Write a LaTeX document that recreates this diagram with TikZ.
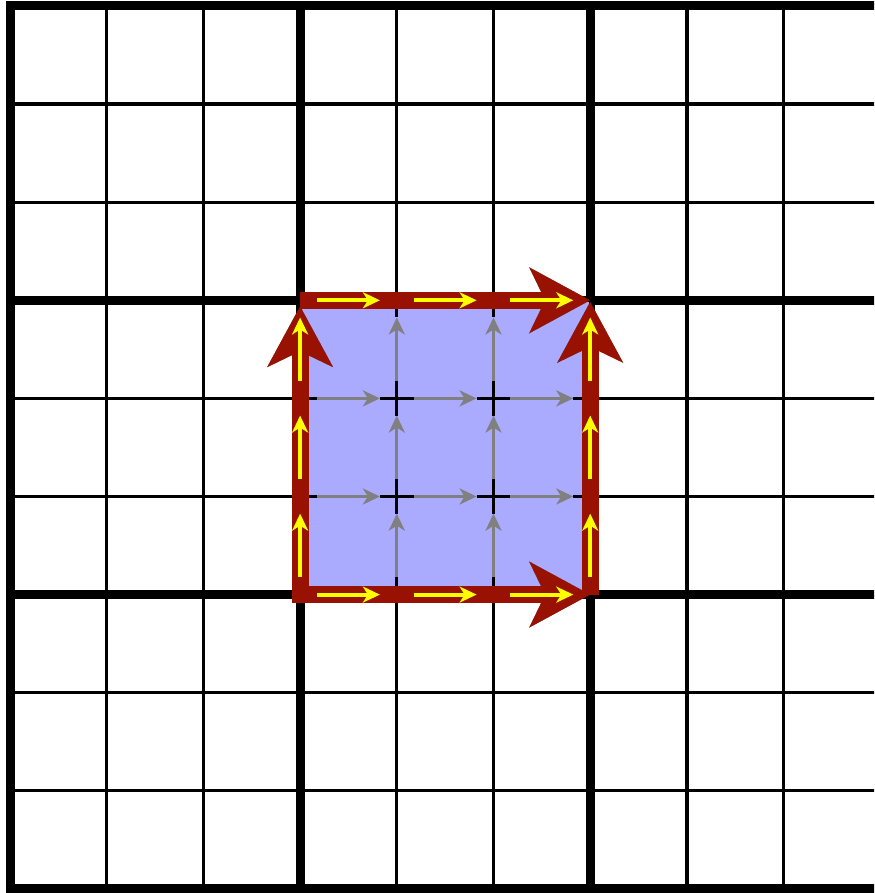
\documentclass[tikz,border=0pt]{standalone}
\usetikzlibrary{arrows.meta}
\definecolor{sqblue}{RGB}{170,170,255}
\definecolor{bred}{RGB}{153,17,0}
\definecolor{ylw}{RGB}{255,255,0}
\definecolor{gry}{RGB}{128,128,128}
\tikzset{
  thingrid/.style={draw=black, line width=0.033cm},
  thickgrid/.style={draw=black, line width=0.09cm, line cap=rect},
  garrow/.style={draw=gry, line width=0.033cm, -{Stealth[length=0.17cm,width=0.16cm,inset=0.05cm]}},
  yarrow/.style={draw=ylw, line width=0.04cm, -{Stealth[length=0.17cm,width=0.16cm,inset=0.05cm]}},
  rarrow/.style={draw=bred, line width=0.17cm, -{Stealth[length=0.6cm,width=0.64cm,inset=0.15cm]}},
}
\newcommand\RedFrame[1]{%
  \draw[rarrow,line cap=rect,#1] (BL) -- (BR);
  \draw[rarrow,#1] (TL) -- (TR);
  \draw[rarrow,line cap=rect,#1] (BL) -- (LT);
  \draw[rarrow,#1] (BR) -- (RT);
}
\begin{document}
\begin{tikzpicture}[x={(0.967cm,0)}, y={(0,-0.981cm)}, shift={(0.10cm,-0.06cm)}]
\useasboundingbox (-0.10cm,0.06cm) rectangle (8.64cm,-8.87cm);
\fill[white] (-0.10cm,0.06cm) rectangle (8.64cm,-8.87cm);
\clip (-0.10cm,0.06cm) rectangle (8.64cm,-8.87cm);
% grid
\foreach \i in {1,2,4,5,7,8} \draw[thingrid] (\i,0) -- (\i,9);
\foreach \j in {1,2,4,5,7,8} \draw[thingrid] (0,\j) -- (9.5,\j);
\foreach \i in {0,3,6,9} \draw[thickgrid] (\i,0) -- (\i,9);
\foreach \j in {0,3,6,9} \draw[thickgrid] (0,\j) -- (9.5,\j);
% square corners
\coordinate (TL) at (3,3);
\coordinate (TR) at (6,3);
\coordinate (BL) at (3,6);
\coordinate (BR) at (6,6);
\coordinate (LT) at (3,3.06);
\coordinate (RT) at (6,3.015);
% blue square
\fill[sqblue] (TL) rectangle (BR);
% black stubs at nodes
\begin{scope}
  \clip (TL) rectangle (BR);
  \foreach \i in {3,...,6}
    \foreach \j in {3,...,6} {
      \draw[thingrid] (\i-0.175,\j) -- (\i+0.175,\j);
      \draw[thingrid] (\i,\j-0.175) -- (\i,\j+0.175);
    }
\end{scope}
% gray arrows
\foreach \j in {4,5}
  \foreach \i in {3,4,5}
    \draw[garrow] (\i+0.175,\j) -- (\i+0.825,\j);
\foreach \i in {4,5}
  \foreach \j in {3,4,5}
    \draw[garrow] (\i,\j+0.825) -- (\i,\j+0.175);
% soft shadow
\foreach \a in {0,30,...,330} {
  \begin{scope}[xshift=0.04cm, yshift=-0.05cm, shift={(\a:0.04cm)}]
    \RedFrame{draw=black, opacity=0.045}
  \end{scope}
}
% red frame arrows
\RedFrame{}
% yellow arrows
\foreach \j in {3,6}
  \foreach \i in {3,4,5}
    \draw[yarrow] (\i+0.175,\j) -- (\i+0.825,\j);
\foreach \i in {3,6}
  \foreach \j in {3,4,5}
    \draw[yarrow] (\i,\j+0.825) -- (\i,\j+0.175);
\end{tikzpicture}
\end{document}
